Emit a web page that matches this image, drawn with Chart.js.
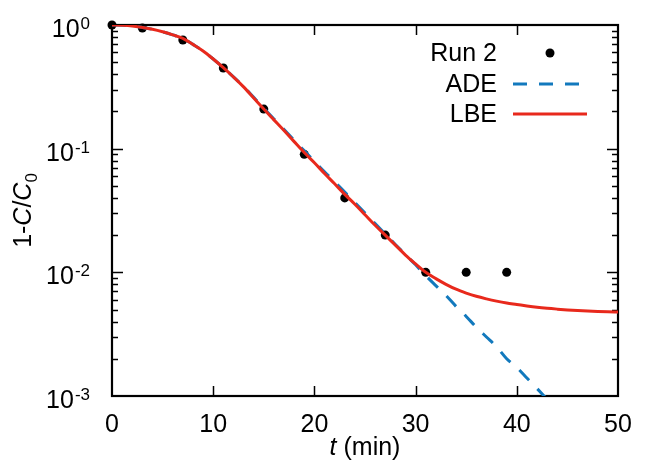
<!DOCTYPE html>
<html>
<head>
<meta charset="utf-8">
<script src="https://cdn.jsdelivr.net/npm/chart.js@4/dist/chart.umd.min.js"></script>
<style>
  html, body { margin: 0; padding: 0; background: #fff; }
  canvas { display: block; }
</style>
</head>
<body>
<canvas id="myChart" width="664" height="465"></canvas>
<script>
// measured points (Run 2)
let run2T = [0, 3, 7, 11, 15, 19, 23, 27, 31, 35, 39];
let run2C = [1.0, 0.946, 0.756, 0.449, 0.209, 0.090, 0.040, 0.020, 0.010, 0.010, 0.010];

// model curves, read every minute
let modelT = [0, 1, 2, 3, 4, 5, 6, 7, 8, 9, 10, 11, 12, 13, 14, 15, 16, 17, 18, 19, 20,
              21, 22, 23, 24, 25, 26, 27, 28, 29, 30, 31, 32, 33, 34, 35, 36, 37, 38, 39, 40,
              41, 42, 43, 44, 45, 46, 47, 48, 49, 50];
let lbeC = [1.0, 0.995, 0.982, 0.955, 0.923, 0.881, 0.832, 0.780, 0.697, 0.617, 0.531,
            0.452, 0.380, 0.316, 0.257, 0.209, 0.171, 0.140, 0.114, 0.093, 0.077,
            0.063, 0.052, 0.0427, 0.0355, 0.0292, 0.0240, 0.0200, 0.0166, 0.0138, 0.0117,
            0.0100, 0.0089, 0.0080, 0.0073, 0.0068, 0.0064, 0.0061, 0.00585, 0.00565, 0.0055,
            0.00535, 0.00522, 0.00512, 0.00504, 0.00497, 0.00491, 0.00486, 0.00482, 0.00479, 0.00477];
let adeC = [1.0, 0.995, 0.982, 0.955, 0.923, 0.881, 0.832, 0.780, 0.697, 0.617, 0.531,
            0.452, 0.381, 0.318, 0.260, 0.212, 0.174, 0.143, 0.117, 0.096, 0.079,
            0.065, 0.054, 0.0445, 0.0367, 0.0302, 0.0248, 0.0204, 0.0168, 0.0139, 0.0115,
            0.0094, 0.0078, 0.0065, 0.0053, 0.0044, 0.0036, 0.0030, 0.0025, 0.0020, 0.0017,
            0.0014, 0.00115, 0.00094];

let xTicks = [0, 10, 20, 30, 40, 50];
let yExponents = [0, -1, -2, -3];

const FONT = "'Liberation Sans', Arial, sans-serif";

function pts(xs, ys) {
    return ys.map((y, i) => ({ x: xs[i], y: y }));
}

// axes box, inward ticks, y labels with superscripts, titles and legend
const decor = {
    id: 'decor',
    beforeDatasetsDraw(chart) {
        const ctx = chart.ctx;
        const a = chart.chartArea;
        const xs = chart.scales.x, ys = chart.scales.y;
        ctx.save();
        ctx.strokeStyle = '#000';
        ctx.lineWidth = 1.5;
        ctx.beginPath();
        xTicks.forEach(v => {
            const px = Math.round(xs.getPixelForValue(v)) + 0.5;
            if (v === 0 || v === 50) return;
            ctx.moveTo(px, a.bottom); ctx.lineTo(px, a.bottom - 10);
            ctx.moveTo(px, a.top); ctx.lineTo(px, a.top + 10);
        });
        yExponents.forEach(e => {
            for (let m = 1; m < 10; m++) {
                const v = m * Math.pow(10, e);
                if (v > 1 || (m === 1 && (e === 0 || e === -3))) continue;
                const py = Math.round(ys.getPixelForValue(v)) + 0.5;
                const len = m === 1 ? 11 : 6;
                ctx.moveTo(a.left, py); ctx.lineTo(a.left + len, py);
                ctx.moveTo(a.right, py); ctx.lineTo(a.right - len, py);
            }
        });
        ctx.stroke();
        ctx.lineWidth = 2.2;
        ctx.strokeRect(a.left, a.top, a.right - a.left, a.bottom - a.top);

        // y tick labels
        ctx.fillStyle = '#000';
        ctx.textBaseline = 'alphabetic';
        yExponents.forEach(e => {
            const py = ys.getPixelForValue(Math.pow(10, e));
            const sup = String(e);
            ctx.font = '17px ' + FONT;
            const sw = ctx.measureText(sup).width;
            ctx.textAlign = 'right';
            ctx.fillText(sup, 90, py + 4);
            ctx.font = '25px ' + FONT;
            ctx.fillText('10', 90 - sw - 1, py + 12);
        });

        // y title: 1-C/C0 rotated
        ctx.save();
        ctx.translate(31, (a.top + a.bottom) / 2);
        ctx.rotate(-Math.PI / 2);
        const parts = [['1-', 'normal'], ['C', 'italic'], ['/', 'normal'], ['C', 'italic']];
        let total = 0;
        parts.forEach(p => { ctx.font = p[1] + ' 25px ' + FONT; total += ctx.measureText(p[0]).width; });
        ctx.font = '17px ' + FONT;
        total += ctx.measureText('0').width;
        let cx = -total / 2;
        ctx.textAlign = 'left';
        parts.forEach(p => {
            ctx.font = p[1] + ' 25px ' + FONT;
            ctx.fillText(p[0], cx, 0);
            cx += ctx.measureText(p[0]).width;
        });
        ctx.font = '17px ' + FONT;
        ctx.fillText('0', cx, 6);
        ctx.restore();

        // x title: t (min)
        const midX = (a.left + a.right) / 2;
        ctx.font = 'italic 25px ' + FONT;
        const tw = ctx.measureText('t').width;
        ctx.font = '25px ' + FONT;
        const rw = ctx.measureText(' (min)').width;
        let sx = midX - (tw + rw) / 2;
        ctx.textAlign = 'left';
        ctx.font = 'italic 25px ' + FONT;
        ctx.fillText('t', sx, 455);
        ctx.font = '25px ' + FONT;
        ctx.fillText(' (min)', sx + tw, 455);

        // legend
        const rowsY = [53, 84, 114];
        chart.data.datasets.forEach((ds, i) => {
            const y = rowsY[i];
            ctx.font = '25px ' + FONT;
            ctx.textAlign = 'right';
            ctx.textBaseline = 'middle';
            ctx.fillStyle = '#000';
            ctx.fillText(ds.label, 497, y + 1);
            if (ds.showLine === false) {
                ctx.beginPath();
                ctx.arc(550, y, 4.5, 0, Math.PI * 2);
                ctx.fillStyle = ds.pointBackgroundColor;
                ctx.fill();
            } else {
                ctx.beginPath();
                ctx.setLineDash(ds.borderDash || []);
                ctx.strokeStyle = ds.borderColor;
                ctx.lineWidth = ds.borderWidth;
                ctx.moveTo(513, y); ctx.lineTo(587, y);
                ctx.stroke();
                ctx.setLineDash([]);
            }
        });
        ctx.restore();
    }
};

let chart = new Chart(document.getElementById('myChart').getContext('2d'), {
    type: 'scatter',
    data: {
        datasets: [{
            label: 'Run 2',
            data: pts(run2T, run2C),
            showLine: false,
            pointRadius: 4.5,
            pointBackgroundColor: '#000',
            pointBorderWidth: 0,
            clip: 8,
            order: 3
        }, {
            label: 'ADE',
            data: pts(modelT, adeC),
            showLine: true,
            borderColor: '#1279bd',
            borderWidth: 3,
            borderDash: [14, 12],
            pointRadius: 0,
            cubicInterpolationMode: 'monotone',
            order: 2
        }, {
            label: 'LBE',
            data: pts(modelT, lbeC),
            showLine: true,
            borderColor: '#e8291c',
            borderWidth: 3,
            pointRadius: 0,
            cubicInterpolationMode: 'monotone',
            order: 1
        }]
    },
    plugins: [decor],
    options: {
        responsive: false,
        animation: false,
        layout: { padding: { left: 0, top: 25, right: 46, bottom: 0 } },
        plugins: {
            legend: { display: false },
            tooltip: { enabled: false }
        },
        scales: {
            x: {
                type: 'linear',
                min: 0,
                max: 50,
                afterBuildTicks: s => { s.ticks = xTicks.map(v => ({ value: v })); },
                ticks: { color: '#000', font: { family: FONT, size: 25 }, padding: 14, maxRotation: 0 },
                grid: { display: false, drawTicks: false },
                border: { display: false },
                afterFit: s => { s.height = 69; }
            },
            y: {
                type: 'logarithmic',
                min: 0.001,
                max: 1,
                ticks: { display: false },
                grid: { display: false, drawTicks: false },
                border: { display: false },
                afterFit: s => { s.width = 112; }
            }
        }
    }
});
</script>
</body>
</html>
